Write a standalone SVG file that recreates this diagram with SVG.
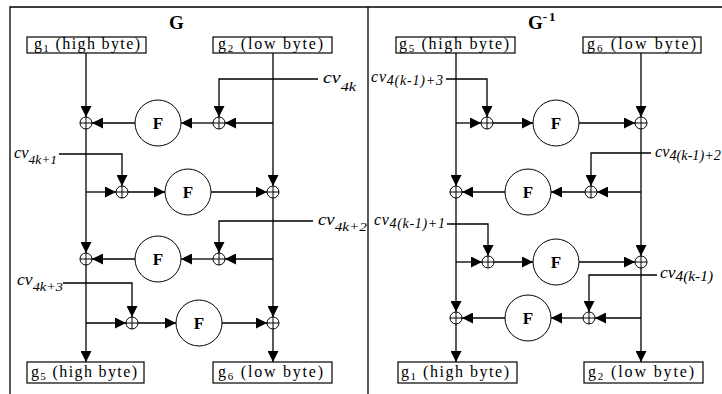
<svg xmlns="http://www.w3.org/2000/svg" xmlns:xlink="http://www.w3.org/1999/xlink" width="722" height="394" viewBox="0 0 722 394">
<style>
.ln{stroke:#000;stroke-width:1.3;fill:none}
.ar{marker-end:url(#ah)}
.frame{stroke:#000;stroke-width:1.3;fill:none}
.box{fill:#fff;stroke:#000;stroke-width:1.2}
.fc{fill:#fff;stroke:#000;stroke-width:1}
.xc{fill:#fff;stroke:#000;stroke-width:1}
.bt{font-family:"Liberation Serif","Times New Roman",serif;font-size:16px;fill:#000}
.lb{font-family:"Liberation Serif","Times New Roman",serif;font-style:italic;font-size:16px;fill:#000}
.ft{font-family:"Liberation Serif","Times New Roman",serif;font-weight:bold;font-size:17px;text-anchor:middle;fill:#000}
.tt{font-family:"Liberation Serif","Times New Roman",serif;font-weight:bold;font-size:19px;fill:#000}
</style>
<defs>
<marker id="ah" markerUnits="userSpaceOnUse" markerWidth="11" markerHeight="11" refX="11" refY="5.5" orient="auto" viewBox="0 0 11 11">
<path d="M0,0L11,5.5L0,11z" fill="#000"/>
</marker>
<g id="xr"><circle class="xc" r="6"/><path d="M-6,0H6M0,-6V6" stroke="#000" stroke-width="1"/></g>
</defs>
<rect width="722" height="394" fill="#fff"/>
<g id="frame">
<path class="frame" d="M10,394V7H722M368,7V394"/>
</g>
<g id="titles">
<text class="tt" x="176.5" y="29" text-anchor="middle">G</text>
<text class="tt" x="528" y="29">G<tspan font-size="13" dy="-8" letter-spacing="2">-1</tspan></text>
</g>
<g id="connectors">
<path class="ln ar" d="M86,53V117"/>
<path class="ln ar" d="M86,129V253"/>
<path class="ln ar" d="M86,192H116"/>
<path class="ln ar" d="M86,265V362"/>
<path class="ln ar" d="M86,323H126"/>
<path class="ln ar" d="M273,53V186"/>
<path class="ln ar" d="M273,123H225"/>
<path class="ln ar" d="M273,198V317"/>
<path class="ln ar" d="M273,259H225"/>
<path class="ln ar" d="M273,329V362"/>
<path class="ln ar" d="M213,123H181"/>
<path class="ln ar" d="M135,123H92"/>
<path class="ln ar" d="M318,79H219V117"/>
<path class="ln ar" d="M128,192H165"/>
<path class="ln ar" d="M211,192H267"/>
<path class="ln ar" d="M59,154H122V186"/>
<path class="ln ar" d="M213,259H181"/>
<path class="ln ar" d="M135,259H92"/>
<path class="ln ar" d="M313,221H219V253"/>
<path class="ln ar" d="M138,323H176"/>
<path class="ln ar" d="M222,323H267"/>
<path class="ln ar" d="M63,283H132V317"/>
<path class="ln ar" d="M456,53V186"/>
<path class="ln ar" d="M456,123H481"/>
<path class="ln ar" d="M456,198V312"/>
<path class="ln ar" d="M456,262H482"/>
<path class="ln ar" d="M456,324V362"/>
<path class="ln ar" d="M641,53V117"/>
<path class="ln ar" d="M641,129V256"/>
<path class="ln ar" d="M641,192H597"/>
<path class="ln ar" d="M641,268V362"/>
<path class="ln ar" d="M641,318H595"/>
<path class="ln ar" d="M493,123H533"/>
<path class="ln ar" d="M579,123H635"/>
<path class="ln ar" d="M446,79H487V117"/>
<path class="ln ar" d="M585,192H551"/>
<path class="ln ar" d="M505,192H462"/>
<path class="ln ar" d="M651,153H591V186"/>
<path class="ln ar" d="M494,262H533"/>
<path class="ln ar" d="M579,262H635"/>
<path class="ln ar" d="M447,224H488V256"/>
<path class="ln ar" d="M583,318H551"/>
<path class="ln ar" d="M505,318H462"/>
<path class="ln ar" d="M657,275H589V312"/>
</g>
<g id="g1top"><rect class="box" x="27" y="37" width="119" height="16"/><text class="bt" x="34" y="49" textLength="106" lengthAdjust="spacing">g<tspan font-size="11" dy="3">1</tspan><tspan dy="-3"> (high byte)</tspan></text></g>
<g id="g2top"><rect class="box" x="213" y="37" width="119" height="16"/><text class="bt" x="218" y="49" textLength="105" lengthAdjust="spacing">g<tspan font-size="11" dy="3">2</tspan><tspan dy="-3"> (low byte)</tspan></text></g>
<g id="g5bot"><rect class="box" x="27" y="362" width="117" height="21"/><text class="bt" x="31" y="376.5" textLength="106" lengthAdjust="spacing">g<tspan font-size="11" dy="3">5</tspan><tspan dy="-3"> (high byte)</tspan></text></g>
<g id="g6bot"><rect class="box" x="213" y="362" width="119" height="21"/><text class="bt" x="218" y="376.5" textLength="105" lengthAdjust="spacing">g<tspan font-size="11" dy="3">6</tspan><tspan dy="-3"> (low byte)</tspan></text></g>
<g id="g5top"><rect class="box" x="396" y="37" width="119" height="16"/><text class="bt" x="399" y="49" textLength="110" lengthAdjust="spacing">g<tspan font-size="11" dy="3">5</tspan><tspan dy="-3"> (high byte)</tspan></text></g>
<g id="g6top"><rect class="box" x="583" y="37" width="118" height="16"/><text class="bt" x="587" y="49" textLength="109" lengthAdjust="spacing">g<tspan font-size="11" dy="3">6</tspan><tspan dy="-3"> (low byte)</tspan></text></g>
<g id="g1bot"><rect class="box" x="398" y="362" width="119" height="21"/><text class="bt" x="401" y="376.5" textLength="108" lengthAdjust="spacing">g<tspan font-size="11" dy="3">1</tspan><tspan dy="-3"> (high byte)</tspan></text></g>
<g id="g2bot"><rect class="box" x="584" y="362" width="119" height="21"/><text class="bt" x="588" y="376.5" textLength="106" lengthAdjust="spacing">g<tspan font-size="11" dy="3">2</tspan><tspan dy="-3"> (low byte)</tspan></text></g>
<g id="fG1"><circle class="fc" cx="158" cy="123" r="23"/><text class="ft" x="158" y="129">F</text></g>
<g id="fG2"><circle class="fc" cx="188" cy="192" r="23"/><text class="ft" x="188" y="198">F</text></g>
<g id="fG3"><circle class="fc" cx="158" cy="259" r="23"/><text class="ft" x="158" y="265">F</text></g>
<g id="fG4"><circle class="fc" cx="199" cy="323" r="23"/><text class="ft" x="199" y="329">F</text></g>
<g id="fH1"><circle class="fc" cx="556" cy="123" r="23"/><text class="ft" x="556" y="129">F</text></g>
<g id="fH2"><circle class="fc" cx="528" cy="192" r="23"/><text class="ft" x="528" y="198">F</text></g>
<g id="fH3"><circle class="fc" cx="556" cy="262" r="23"/><text class="ft" x="556" y="268">F</text></g>
<g id="fH4"><circle class="fc" cx="528" cy="318" r="23"/><text class="ft" x="528" y="324">F</text></g>
<g id="xG1a"><use xlink:href="#xr" x="86" y="123"/></g>
<g id="xG1b"><use xlink:href="#xr" x="219" y="123"/></g>
<g id="xG2a"><use xlink:href="#xr" x="122" y="192"/></g>
<g id="xG2b"><use xlink:href="#xr" x="273" y="192"/></g>
<g id="xG3a"><use xlink:href="#xr" x="86" y="259"/></g>
<g id="xG3b"><use xlink:href="#xr" x="219" y="259"/></g>
<g id="xG4a"><use xlink:href="#xr" x="132" y="323"/></g>
<g id="xG4b"><use xlink:href="#xr" x="273" y="323"/></g>
<g id="xH1a"><use xlink:href="#xr" x="487" y="123"/></g>
<g id="xH1b"><use xlink:href="#xr" x="641" y="123"/></g>
<g id="xH2a"><use xlink:href="#xr" x="456" y="192"/></g>
<g id="xH2b"><use xlink:href="#xr" x="591" y="192"/></g>
<g id="xH3a"><use xlink:href="#xr" x="488" y="262"/></g>
<g id="xH3b"><use xlink:href="#xr" x="641" y="262"/></g>
<g id="xH4a"><use xlink:href="#xr" x="456" y="318"/></g>
<g id="xH4b"><use xlink:href="#xr" x="589" y="318"/></g>
<g id="labels">
<text class="lb" x="323" y="83" textLength="33" lengthAdjust="spacingAndGlyphs">cv<tspan dy="8" font-size="13">4k</tspan></text>
<text class="lb" x="14" y="158" textLength="43" lengthAdjust="spacingAndGlyphs">cv<tspan dy="6" font-size="13">4k+1</tspan></text>
<text class="lb" x="318" y="225" textLength="49" lengthAdjust="spacingAndGlyphs">cv<tspan dy="6" font-size="13">4k+2</tspan></text>
<text class="lb" x="17" y="285" textLength="46" lengthAdjust="spacingAndGlyphs">cv<tspan dy="6" font-size="13">4k+3</tspan></text>
<text class="lb" x="371" y="82" textLength="72" lengthAdjust="spacing">cv<tspan dy="3" font-size="14">4(k-1)+3</tspan></text>
<text class="lb" x="655" y="157" textLength="66" lengthAdjust="spacingAndGlyphs">cv<tspan dy="3" font-size="14">4(k-1)+2</tspan></text>
<text class="lb" x="374" y="225" textLength="71" lengthAdjust="spacing">cv<tspan dy="3" font-size="14">4(k-1)+1</tspan></text>
<text class="lb" x="660" y="278" textLength="53" lengthAdjust="spacingAndGlyphs">cv<tspan dy="3" font-size="14">4(k-1)</tspan></text>
</g>
</svg>
